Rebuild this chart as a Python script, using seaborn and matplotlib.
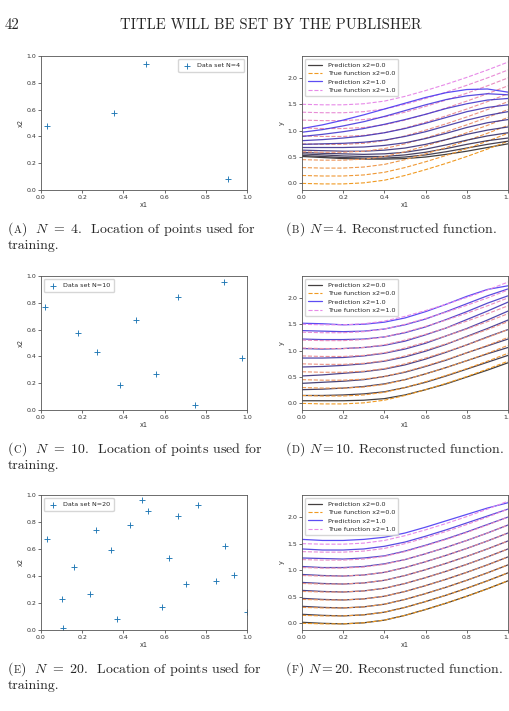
import matplotlib
matplotlib.use('Agg')
import matplotlib.pyplot as plt
from matplotlib.colors import LinearSegmentedColormap
import seaborn as sns

# ---- data ----
x1_grid = [0.0, 0.1, 0.2, 0.3, 0.4, 0.5, 0.6, 0.7, 0.8, 0.9, 1.0]
x2_levels = [0.0, 0.1, 0.2, 0.3, 0.4, 0.5, 0.6, 0.7, 0.8, 0.9, 1.0]

n4_x1 = [0.03, 0.355, 0.51, 0.91]
n4_x2 = [0.48, 0.575, 0.94, 0.08]

n10_x1 = [0.02, 0.18, 0.27, 0.385, 0.46, 0.56, 0.665, 0.75, 0.89, 0.975]
n10_x2 = [0.765, 0.575, 0.435, 0.19, 0.675, 0.265, 0.84, 0.035, 0.955, 0.385]

n20_x1 = [0.027, 0.10, 0.105, 0.16, 0.24, 0.268, 0.339, 0.367, 0.431, 0.491,
          0.52, 0.588, 0.622, 0.664, 0.706, 0.764, 0.851, 0.895, 0.937, 1.0]
n20_x2 = [0.671, 0.23, 0.012, 0.463, 0.267, 0.74, 0.589, 0.082, 0.775, 0.965,
          0.884, 0.168, 0.537, 0.842, 0.342, 0.926, 0.361, 0.619, 0.406, 0.131]

# true function, one row per x2 level
true_curves = [
    [0.00, -0.01, -0.01, 0.01, 0.06, 0.15, 0.26, 0.38, 0.51, 0.65, 0.80],
    [0.15, 0.14, 0.14, 0.16, 0.21, 0.30, 0.41, 0.53, 0.66, 0.80, 0.95],
    [0.30, 0.29, 0.29, 0.31, 0.36, 0.45, 0.56, 0.68, 0.81, 0.95, 1.10],
    [0.45, 0.44, 0.44, 0.46, 0.51, 0.60, 0.71, 0.83, 0.96, 1.10, 1.25],
    [0.60, 0.59, 0.59, 0.61, 0.66, 0.75, 0.86, 0.98, 1.11, 1.25, 1.40],
    [0.75, 0.74, 0.74, 0.76, 0.81, 0.90, 1.01, 1.13, 1.26, 1.40, 1.55],
    [0.90, 0.89, 0.89, 0.91, 0.96, 1.05, 1.16, 1.28, 1.41, 1.55, 1.70],
    [1.05, 1.04, 1.04, 1.06, 1.11, 1.20, 1.31, 1.43, 1.56, 1.70, 1.85],
    [1.20, 1.19, 1.19, 1.21, 1.26, 1.35, 1.46, 1.58, 1.71, 1.85, 2.00],
    [1.35, 1.34, 1.34, 1.36, 1.41, 1.50, 1.61, 1.73, 1.86, 2.00, 2.15],
    [1.50, 1.49, 1.49, 1.51, 1.56, 1.65, 1.76, 1.88, 2.01, 2.15, 2.30],
]

pred_n4 = [
    [0.51, 0.49, 0.47, 0.46, 0.46, 0.47, 0.50, 0.55, 0.61, 0.68, 0.75],
    [0.53, 0.51, 0.49, 0.48, 0.48, 0.50, 0.54, 0.60, 0.67, 0.74, 0.80],
    [0.56, 0.54, 0.52, 0.51, 0.51, 0.54, 0.59, 0.66, 0.74, 0.81, 0.86],
    [0.59, 0.57, 0.56, 0.55, 0.56, 0.59, 0.65, 0.73, 0.82, 0.90, 0.96],
    [0.63, 0.62, 0.61, 0.61, 0.63, 0.67, 0.74, 0.83, 0.93, 1.01, 1.07],
    [0.68, 0.68, 0.68, 0.69, 0.72, 0.77, 0.85, 0.95, 1.06, 1.15, 1.21],
    [0.74, 0.75, 0.76, 0.78, 0.82, 0.89, 0.98, 1.09, 1.20, 1.29, 1.36],
    [0.81, 0.83, 0.86, 0.90, 0.96, 1.04, 1.14, 1.25, 1.36, 1.44, 1.49],
    [0.89, 0.93, 0.98, 1.04, 1.12, 1.21, 1.31, 1.42, 1.51, 1.58, 1.61],
    [0.97, 1.02, 1.09, 1.17, 1.27, 1.38, 1.49, 1.59, 1.66, 1.70, 1.68],
    [1.04, 1.11, 1.20, 1.30, 1.41, 1.52, 1.63, 1.72, 1.78, 1.79, 1.73],
]

pred_n10 = [
    [0.05, 0.05, 0.05, 0.06, 0.09, 0.16, 0.26, 0.37, 0.50, 0.63, 0.77],
    [0.15, 0.15, 0.16, 0.18, 0.22, 0.30, 0.40, 0.52, 0.65, 0.78, 0.91],
    [0.26, 0.27, 0.29, 0.32, 0.37, 0.45, 0.56, 0.68, 0.81, 0.94, 1.06],
    [0.38, 0.40, 0.42, 0.45, 0.51, 0.59, 0.70, 0.82, 0.96, 1.09, 1.22],
    [0.52, 0.54, 0.57, 0.60, 0.65, 0.73, 0.84, 0.97, 1.11, 1.26, 1.40],
    [0.69, 0.70, 0.72, 0.75, 0.80, 0.88, 0.99, 1.12, 1.27, 1.42, 1.58],
    [0.86, 0.86, 0.87, 0.90, 0.95, 1.03, 1.14, 1.28, 1.42, 1.58, 1.75],
    [1.04, 1.03, 1.04, 1.06, 1.10, 1.18, 1.30, 1.43, 1.59, 1.75, 1.92],
    [1.22, 1.21, 1.21, 1.22, 1.26, 1.34, 1.45, 1.59, 1.74, 1.90, 2.04],
    [1.38, 1.37, 1.36, 1.37, 1.41, 1.49, 1.60, 1.74, 1.89, 2.04, 2.17],
    [1.52, 1.51, 1.49, 1.50, 1.54, 1.62, 1.74, 1.88, 2.03, 2.16, 2.23],
]

pred_n20 = [
    [0.02, 0.00, -0.01, 0.01, 0.06, 0.15, 0.26, 0.38, 0.51, 0.65, 0.80],
    [0.17, 0.15, 0.14, 0.16, 0.21, 0.30, 0.41, 0.53, 0.66, 0.80, 0.95],
    [0.32, 0.30, 0.29, 0.31, 0.36, 0.45, 0.56, 0.68, 0.81, 0.95, 1.10],
    [0.47, 0.45, 0.44, 0.46, 0.51, 0.60, 0.71, 0.83, 0.96, 1.10, 1.25],
    [0.62, 0.60, 0.59, 0.61, 0.66, 0.75, 0.86, 0.98, 1.11, 1.25, 1.40],
    [0.77, 0.75, 0.74, 0.76, 0.81, 0.90, 1.01, 1.13, 1.26, 1.40, 1.55],
    [0.92, 0.90, 0.89, 0.91, 0.96, 1.05, 1.16, 1.28, 1.41, 1.55, 1.70],
    [1.07, 1.05, 1.05, 1.07, 1.12, 1.20, 1.31, 1.43, 1.56, 1.70, 1.85],
    [1.23, 1.22, 1.21, 1.23, 1.27, 1.36, 1.47, 1.59, 1.72, 1.86, 2.00],
    [1.40, 1.38, 1.38, 1.40, 1.45, 1.53, 1.64, 1.76, 1.89, 2.02, 2.15],
    [1.58, 1.56, 1.56, 1.58, 1.62, 1.70, 1.81, 1.93, 2.05, 2.17, 2.27],
]

unit_ticks = [0.0, 0.2, 0.4, 0.6, 0.8, 1.0]
y_ticks = [0.0, 0.5, 1.0, 1.5, 2.0]

captions_left = [('A', '4'), ('C', '10'), ('E', '20')]
captions_right = [('B', '4'), ('D', '10'), ('F', '20')]

# ---- styling ----
sns.set_theme(style='ticks')
plt.rcParams['font.family'] = ['DejaVu Sans']
plt.rcParams['mathtext.fontset'] = 'cm'
plt.rcParams['axes.edgecolor'] = '#555555'
plt.rcParams['axes.linewidth'] = 0.6

pred_cmap = LinearSegmentedColormap.from_list('pred', ['#2e2a2a', '#4a3af2'])
true_cmap = LinearSegmentedColormap.from_list('true', ['#f09a22', '#e78ae8'])

W, H = 510, 711
CAP = 10.0
fig = plt.figure(figsize=(W / 100, H / 100), dpi=100)
renderer = fig.canvas.get_renderer()


def box(l, t, r, b):
    return [l / W, 1 - b / H, (r - l) / W, (b - t) / H]


def chain(x, y, pieces):
    # place text pieces one after another on a common baseline (pixels)
    for s, size in pieces:
        t = fig.text(x / W, 1 - y / H, s, family='cmr10', fontsize=size,
                     va='baseline', ha='left')
        x += t.get_window_extent(renderer).width


def style_axes(ax):
    ax.tick_params(labelsize=4.5, length=2, width=0.5, pad=1.5, colors='#333333')
    ax.xaxis.label.set_size(4.7)
    ax.yaxis.label.set_size(4.7)
    ax.xaxis.labelpad = 1.5
    ax.yaxis.labelpad = 1.5
    ax.xaxis.label.set_color('#333333')
    ax.yaxis.label.set_color('#333333')


def scatter_panel(ax, xs, ys, n, loc):
    sns.scatterplot(x=xs, y=ys, marker='+', s=18, color='#1f77b4',
                    linewidth=0.65, label=f'Data set N={n}', ax=ax)
    ax.set_xlim(0, 1)
    ax.set_ylim(0, 1)
    ax.set_xticks(unit_ticks)
    ax.set_yticks(unit_ticks)
    ax.set_xticklabels([f'{t:.1f}' for t in unit_ticks])
    ax.set_yticklabels([f'{t:.1f}' for t in unit_ticks])
    ax.set_xlabel('x1')
    ax.set_ylabel('x2')
    ax.legend(loc=loc, fontsize=4.6, frameon=True, handlelength=1.5,
              borderpad=0.6, handletextpad=0.8, framealpha=0.8,
              edgecolor='#cccccc', fancybox=True)
    style_axes(ax)


def function_panel(ax, preds):
    n = len(x2_levels)
    for k, x2 in enumerate(x2_levels):
        frac = k / (n - 1)
        lp = f'Prediction x2={x2:.1f}' if k in (0, n - 1) else None
        lt = f'True function x2={x2:.1f}' if k in (0, n - 1) else None
        sns.lineplot(x=x1_grid, y=preds[k], color=pred_cmap(frac), lw=0.9,
                     alpha=0.9, label=lp, ax=ax, legend=False)
        sns.lineplot(x=x1_grid, y=true_curves[k], color=true_cmap(frac), lw=0.8,
                     linestyle='--', label=lt, ax=ax, legend=False)
    ax.set_xlim(0, 1)
    ax.set_xticks(unit_ticks)
    ax.set_xticklabels([f'{t:.1f}' for t in unit_ticks])
    ax.set_yticks(y_ticks)
    ax.set_yticklabels([f'{t:.1f}' for t in y_ticks])
    ax.set_xlabel('x1')
    ax.set_ylabel('y')
    ax.legend(loc='upper left', fontsize=4.6, frameon=True, handlelength=2.2,
              borderpad=0.5, handletextpad=0.8, labelspacing=0.45,
              framealpha=0.8, edgecolor='#cccccc', fancybox=True)
    style_axes(ax)


rows = [(56, 190), (276, 410), (495, 630)]
scatter_data = [(n4_x1, n4_x2, 4, 'upper right'),
                (n10_x1, n10_x2, 10, 'upper left'),
                (n20_x1, n20_x2, 20, 'upper left')]
pred_data = [pred_n4, pred_n10, pred_n20]

for i, (top, bottom) in enumerate(rows):
    axl = fig.add_axes(box(41, top, 247, bottom))
    xs, ys, n, loc = scatter_data[i]
    scatter_panel(axl, xs, ys, n, loc)
    axr = fig.add_axes(box(302, top, 508, bottom))
    function_panel(axr, pred_data[i])

    base = bottom + 43
    letter, nval = captions_left[i]
    chain(8, base, [('(', CAP), (letter, CAP * 0.75),
                    (f')  $N\\ =\\ {nval}$.  Location of points used for', CAP)])
    chain(8, base + 16.5, [('training.', CAP)])
    letter, nval = captions_right[i]
    chain(286, base, [('(', CAP), (letter, CAP * 0.75),
                      (f') $N = {nval}$. Reconstructed function.', CAP)])

# page header
fig.text(5 / W, 1 - 29 / H, '42', family='cmr10', fontsize=10.5, va='baseline')
fig.text(271 / W, 1 - 29 / H, 'TITLE WILL BE SET BY THE PUBLISHER',
         family='cmr10', fontsize=10.5, va='baseline', ha='center')

fig.savefig('out.png', dpi=100)
